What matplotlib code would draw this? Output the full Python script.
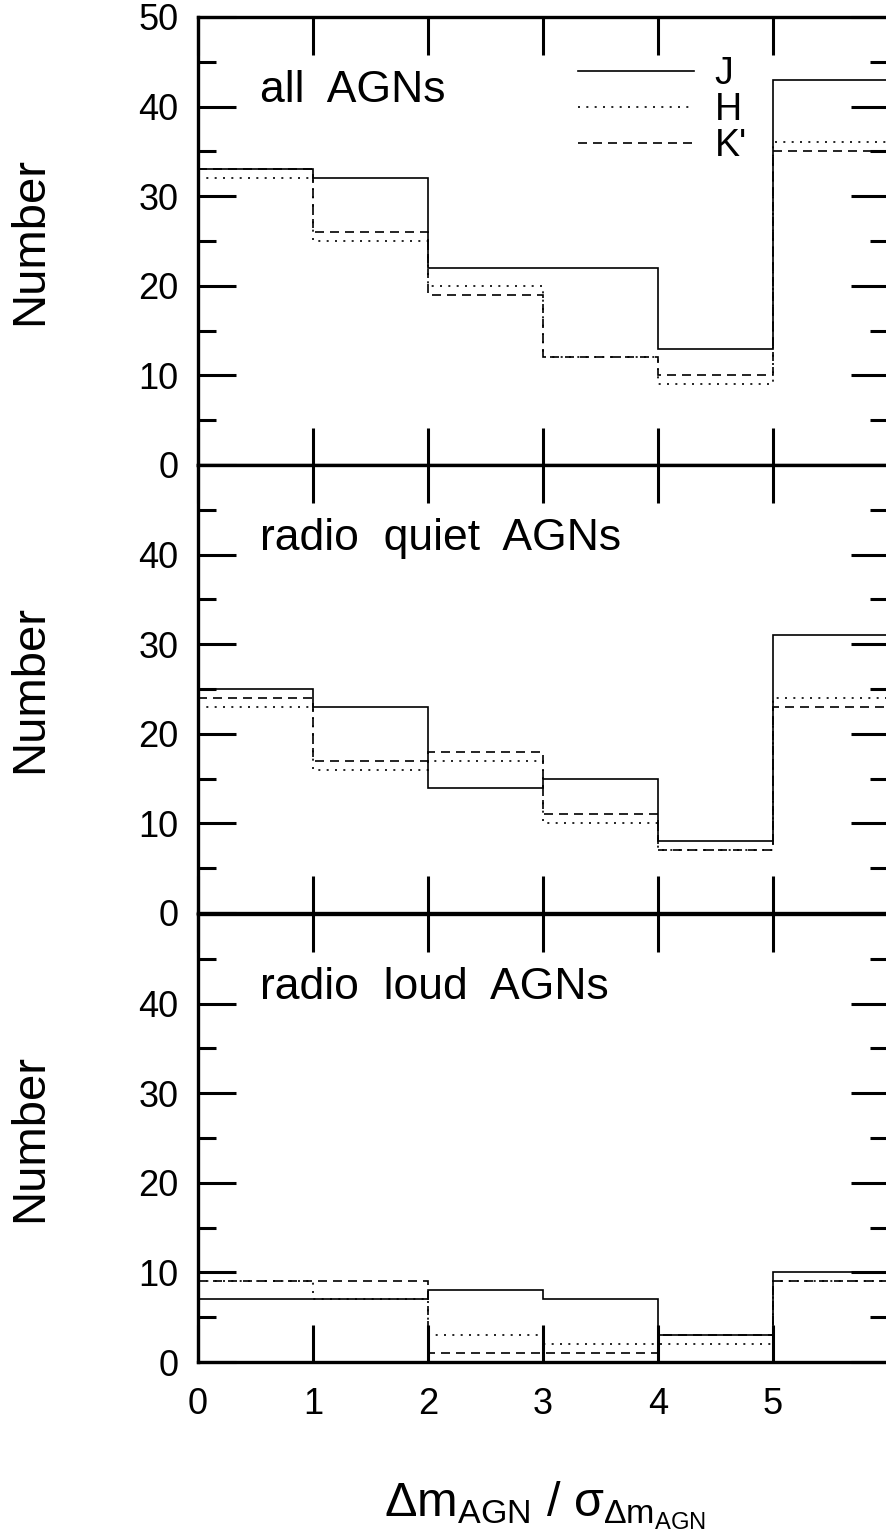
import matplotlib
matplotlib.use('Agg')
import matplotlib.pyplot as plt

plt.rcParams['font.family'] = ['Liberation Sans', 'DejaVu Sans']
plt.rcParams['mathtext.fontset'] = 'custom'
plt.rcParams['mathtext.rm'] = 'Liberation Sans'
plt.rcParams['mathtext.it'] = 'Liberation Sans'
plt.rcParams['mathtext.bf'] = 'Liberation Sans'

# bin edges in units of sigma
edges = [0, 1, 2, 3, 4, 5, 6]

# all AGNs
all_J = [33, 32, 22, 22, 13, 43]
all_H = [32, 25, 20, 12, 9, 36]
all_K = [33, 26, 19, 12, 10, 35]
# radio quiet
rq_J = [25, 23, 14, 15, 8, 31]
rq_H = [23, 16, 17, 10, 7, 24]
rq_K = [24, 17, 18, 11, 7, 23]
# radio loud
rl_J = [7, 7, 8, 7, 3, 10]
rl_H = [9, 7, 3, 2, 2, 9]
rl_K = [9, 9, 1, 1, 3, 9]

panels = [
    ('all  AGNs', all_J, all_H, all_K),
    ('radio  quiet  AGNs', rq_J, rq_H, rq_K),
    ('radio  loud  AGNs', rl_J, rl_H, rl_K),
]
band_names = ['J', 'H', "K'"]

W, H = 886, 1540
fig = plt.figure(figsize=(W / 100, H / 100), dpi=100)

left = 198 / W
width = (888 - 198) / W
ph = 448 / H
bottoms = [(H - 465) / H, (H - 913) / H, (H - 1362) / H]

lw_hist = 1.2
dot = (0, (1.2, 3.8))
dash = (0, (5.4, 3.6))

for i, (title, J, Hb, K) in enumerate(panels):
    ax = fig.add_axes([left, bottoms[i], width, ph])
    s1 = ax.stairs(J, edges, baseline=None, color='black', lw=lw_hist, linestyle='-')
    s2 = ax.stairs(Hb, edges, baseline=None, color='black', lw=lw_hist, linestyle=dot)
    s3 = ax.stairs(K, edges, baseline=None, color='black', lw=lw_hist, linestyle=dash)
    ax.set_xlim(0, 6)
    ax.set_ylim(0, 50)

    ax.set_xticks([0, 1, 2, 3, 4, 5])
    if i == 0:
        ax.set_yticks([0, 10, 20, 30, 40, 50])
    else:
        ax.set_yticks([0, 10, 20, 30, 40])
    ax.set_yticks(range(5, 50, 10), minor=True)

    ax.tick_params(axis='both', which='both', direction='in',
                   top=True, right=True, width=2.2, labelsize=26)
    ax.tick_params(axis='x', which='major', length=27, pad=18)
    ax.tick_params(axis='y', which='major', length=27, pad=14)
    ax.tick_params(axis='y', which='minor', length=13)
    if i < 2:
        ax.tick_params(axis='x', labelbottom=False)

    for sp in ax.spines.values():
        sp.set_linewidth(2.4)

    ax.set_ylabel('Number', fontsize=34)
    ax.yaxis.set_label_coords(-0.212, 0.5)

    ax.text(0.09, 0.81, title, transform=ax.transAxes, fontsize=32,
            ha='left', va='baseline')

    if i == 0:
        ax.legend([s1, s2, s3], band_names, loc='upper left',
                  bbox_to_anchor=(0.5507, 0.912), frameon=False,
                  fontsize=27, borderpad=0, borderaxespad=0,
                  handlelength=3.1, handletextpad=0.55, labelspacing=0.0)

fig.text(545 / W, (H - 1517) / H,
         r'$\Delta\mathrm{m}_{\mathrm{AGN}}\ /\ \sigma_{\Delta\mathrm{m}_{\mathrm{AGN}}}$',
         fontsize=35, ha='center', va='baseline')

fig.savefig('out.png', dpi=100)
